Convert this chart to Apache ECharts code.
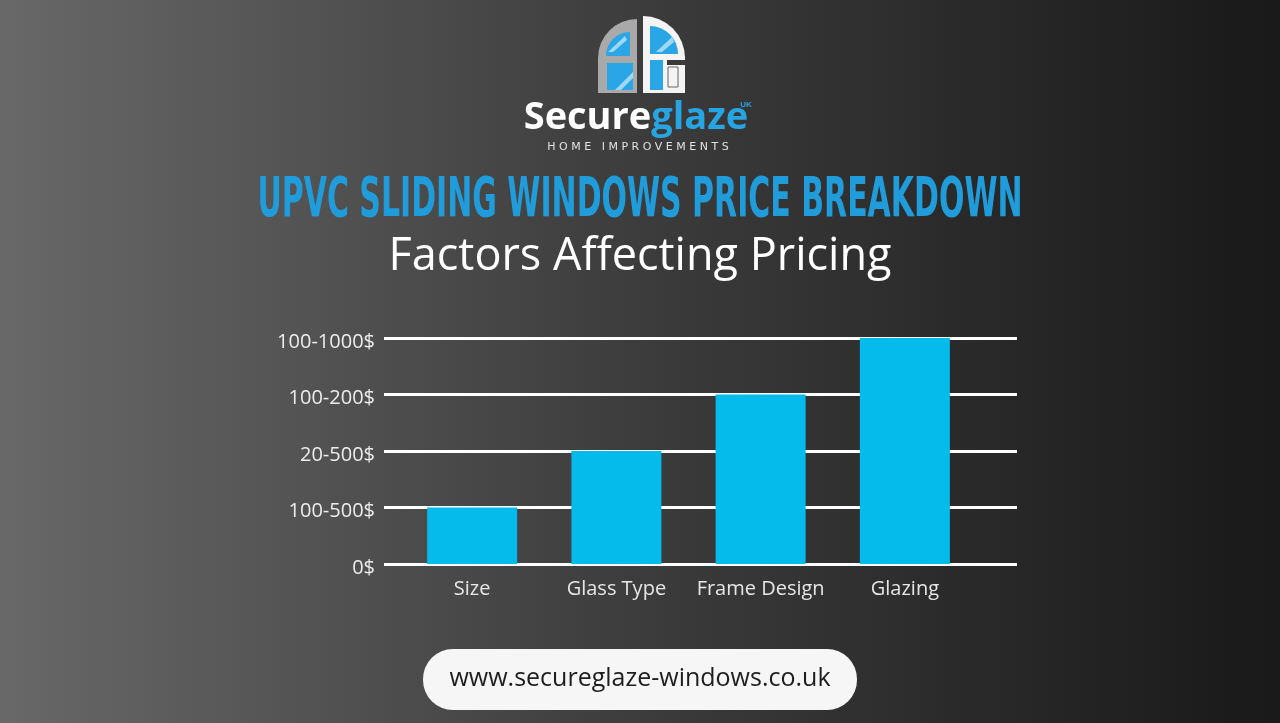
<!DOCTYPE html>
<html><head><meta charset="utf-8">
<script src="https://cdn.jsdelivr.net/npm/echarts@6/dist/echarts.min.js"></script>
<style>html,body{margin:0;padding:0;width:1280px;height:723px;overflow:hidden}#c{width:1280px;height:723px}</style>
</head><body><div id="c"></div>
<script>
const categories = ['Size', 'Glass Type', 'Frame Design', 'Glazing'];
const values = [1, 2, 3, 4];
const yTickLabels = ['0$', '100-500$', '20-500$', '100-200$', '100-1000$'];
const titleText = 'UPVC SLIDING WINDOWS PRICE BREAKDOWN';
const subtitleText = 'Factors Affecting Pricing';
const urlText = 'www.secureglaze-windows.co.uk';

const BLUE = '#1f9cd9';
const BAR = '#04bbeb';
const PANE = '#2aa6e6';
const chart = echarts.init(document.getElementById('c'));
const font = '"Open Sans","Lato",sans-serif';

chart.setOption({
  animation: false,
  backgroundColor: {type:'linear', x:0, y:0, x2:1, y2:0, colorStops:[
    {offset:0, color:'#686868'}, {offset:0.25, color:'#525252'}, {offset:0.5, color:'#3c3c3c'},
    {offset:0.75, color:'#2a2a2a'}, {offset:1, color:'#191919'}]},
  grid: [
    {left:384, right:263, top:338, bottom:159},
    {left:400, right:303, top:338, bottom:159}
  ],
  xAxis: [
    {gridIndex:0, type:'category', data:categories, show:false},
    {gridIndex:1, type:'category', data:categories,
     axisLine:{show:false}, axisTick:{show:false},
     axisLabel:{interval:0, color:'#e6e6e6', fontSize:20, fontFamily:font, margin:15}}
  ],
  yAxis: [
    {gridIndex:0, type:'value', min:0, max:4, interval:1,
     axisLine:{show:false}, axisTick:{show:false},
     axisLabel:{color:'#ececec', fontSize:20, fontFamily:font, margin:9,
       formatter:(v)=>'{a|' + yTickLabels[Math.round(v)] + '}',
       rich:{a:{color:'#ececec', fontSize:20, fontFamily:font, padding:[8,0,0,0]}}},
     splitLine:{lineStyle:{color:'#ffffff', width:3}}},
    {gridIndex:1, type:'value', min:0, max:4, interval:1, show:false, splitLine:{show:false}}
  ],
  series: [{
    type:'bar', xAxisIndex:1, yAxisIndex:1, data:values, barWidth:90,
    itemStyle:{color:BAR}, z:3
  }],
  graphic: [
    // logo icon left (gray S frame)
    {type:'sector', shape:{cx:637, cy:58, r:39, r0:0, startAngle:Math.PI, endAngle:1.5*Math.PI}, style:{fill:'#a9a9a9'}},
    {type:'sector', shape:{cx:630, cy:56, r:24, r0:0, startAngle:Math.PI, endAngle:1.5*Math.PI}, style:{fill:PANE}},
    {type:'rect', shape:{x:630, y:27, width:7, height:31}, style:{fill:'#a9a9a9'}},
    {type:'rect', shape:{x:598, y:58, width:39, height:35}, style:{fill:'#a9a9a9'}},
    {type:'rect', shape:{x:607, y:63, width:26, height:27}, style:{fill:PANE}},
    {type:'polygon', shape:{points:[[615,90],[633,72],[633,78],[621,90]]}, style:{fill:'#9fd8f5'}},
    {type:'polygon', shape:{points:[[608,52],[625,36],[627,40],[613,52]]}, style:{fill:'#9fd8f5'}},
    // logo icon right (white G frame)
    {type:'sector', shape:{cx:643, cy:58, r:42, r0:0, startAngle:1.5*Math.PI, endAngle:2*Math.PI}, style:{fill:'#f4f4f4'}},
    {type:'sector', shape:{cx:650, cy:54, r:28, r0:0, startAngle:1.5*Math.PI, endAngle:2*Math.PI}, style:{fill:PANE}},
    {type:'rect', shape:{x:643, y:56, width:42, height:37}, style:{fill:'#f4f4f4'}},
    {type:'polygon', shape:{points:[[656,52],[672,37],[674,42],[662,52]]}, style:{fill:'#9fd8f5'}},
    {type:'rect', shape:{x:650, y:60, width:13, height:30}, style:{fill:PANE}},
    {type:'rect', shape:{x:667, y:60, width:18, height:5}, style:{fill:'#3a3a3a'}},
    {type:'rect', shape:{x:668, y:67, width:10, height:20}, style:{fill:'#f4f4f4', stroke:'#666', lineWidth:1}},
    // logo text
    {type:'text', x:636, y:118, style:{text:'{a|Secure}{b|glaze}', align:'center', verticalAlign:'middle',
      rich:{a:{font:'bold 38px "Open Sans","Lato",sans-serif', fill:'#ffffff'},
            b:{font:'bold 38px "Open Sans","Lato",sans-serif', fill:'#27a5e3'}}}},
    {type:'text', x:746, y:105, style:{text:'UK', font:'bold 8px sans-serif', fill:'#27a5e3', align:'center', verticalAlign:'middle'}},
    {type:'text', x:638, y:147, style:{text:'H O M E   I M P R O V E M E N T S', font:'11px "DejaVu Sans",sans-serif', fill:'#e0e0e0', align:'center', verticalAlign:'middle'}},
    // title
    {type:'text', x:640, y:201, scaleX:0.595, style:{text:titleText, font:'bold 56px "Liberation Sans Narrow","DejaVu Sans Condensed",sans-serif', fill:BLUE, align:'center', verticalAlign:'middle'}},
    {type:'text', x:640, y:257, style:{text:subtitleText, font:'45px "Open Sans","Lato",sans-serif', fill:'#ffffff', align:'center', verticalAlign:'middle'}},
    // footer pill
    {type:'rect', shape:{x:423, y:649, width:434, height:61, r:30}, style:{fill:'#f6f6f6'}},
    {type:'text', x:640, y:679, style:{text:urlText, font:'25px "Open Sans","Lato",sans-serif', fill:'#1e1e1e', align:'center', verticalAlign:'middle'}}
  ]
});
</script></body></html>
